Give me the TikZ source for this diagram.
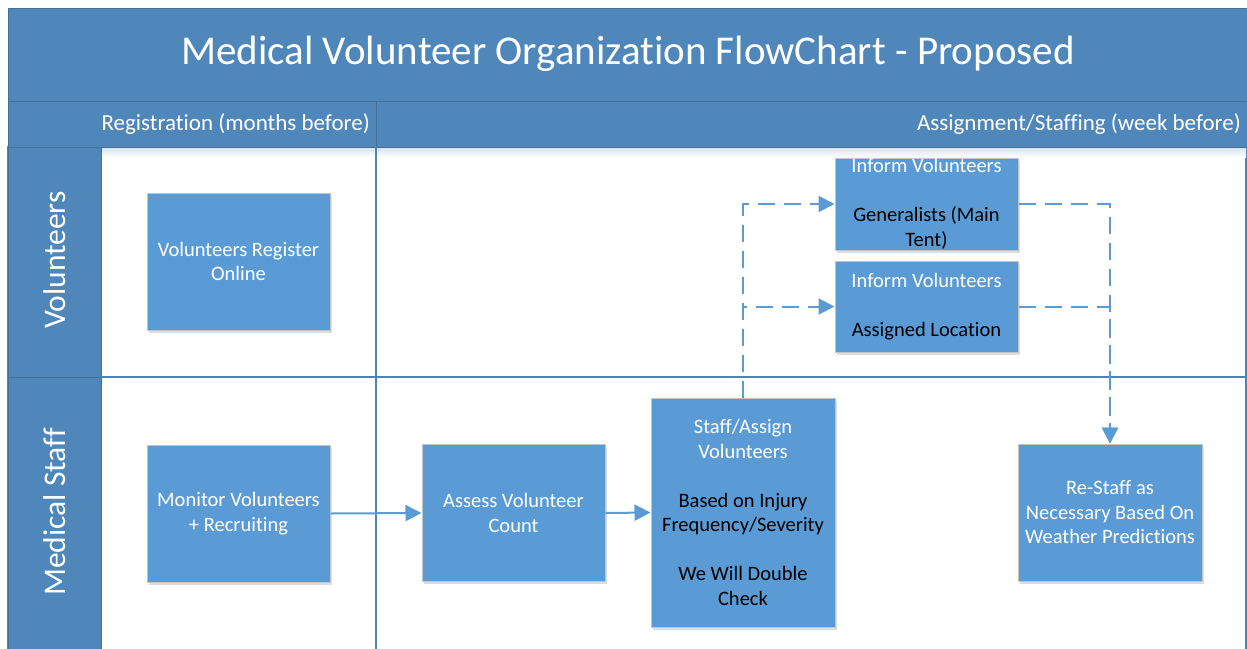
\documentclass[tikz,border=0pt]{standalone}
\usepackage{fontspec}
\setmainfont{Carlito}[Ligatures=NoCommon]
\usetikzlibrary{arrows.meta,shadows}
\definecolor{hdr}{HTML}{4F87BB}
\definecolor{hdrline}{HTML}{41719C}
\definecolor{boxfill}{HTML}{5B9BD5}
\definecolor{boxline}{HTML}{C4C4C4}
\definecolor{conn}{HTML}{5B9BD5}
\definecolor{gridc}{HTML}{4F81BD}
\begin{document}
\begin{tikzpicture}[x=1pt,y=-1pt,
  band/.style={fill=hdr,draw=hdrline,line width=1pt},
  gridline/.style={draw=gridc,line width=1.2pt},
  box/.style={rectangle,fill=boxfill,draw=boxline,line width=1pt,minimum width=183pt,inner sep=0pt,
    drop shadow={shadow xshift=1.5pt,shadow yshift=-2.5pt,opacity=0.22,fill=black!60}},
  boxtext/.style={align=center,font=\fontsize{20.5}{24.5}\selectfont,text=white,inner sep=0pt},
  hdrtext/.style={text=white,inner sep=0pt},
  flow/.style={draw=conn,line width=2pt,-{Triangle[length=16pt,width=16pt]}},
  dflow/.style={flow,dash pattern=on 17pt off 9pt},
]
\useasboundingbox (0,0) rectangle (1247,648);
\clip (0,0) rectangle (1247,648);
\fill[white] (0,0) rectangle (1247,648);
% pool frame
\draw[gridline] (8,147) rectangle (1246,700);
\shade[top color=hdr!25,bottom color=white] (101,147) rectangle (1246,157);
% title band
\draw[band] (8,8) rectangle (1250,101);
\node[hdrtext,font=\fontsize{41}{46}\selectfont] (title) at (628,54) {Medical Volunteer Organization FlowChart - Proposed};
% phase row
\draw[band] (8,101) rectangle (376,147);
\draw[band] (376,101) rectangle (1250,147);
\node[hdrtext,anchor=east,font=\fontsize{23}{27}\selectfont] (ph1) at (370,124) {Registration (months before)};
\node[hdrtext,anchor=east,font=\fontsize{23}{27}\selectfont] (ph2) at (1241,124) {Assignment/Staffing (week before)};
% lane headers
\draw[band] (8,147) rectangle (101,377);
\draw[band] (8,377) rectangle (101,700);
\node[hdrtext,rotate=90,font=\fontsize{31.5}{36}\selectfont] (lane1) at (55,260) {Volunteers};
\node[hdrtext,rotate=90,font=\fontsize{31.5}{36}\selectfont] (lane2) at (55,512) {Medical Staff};
% dividers
\draw[gridline] (101,377) -- (1246,377);
\draw[gridline] (376,147) -- (376,700);
% boxes
\node[box,minimum height=137pt,label={[boxtext]center:Volunteers Register\\Online}] (reg) at (238.5,261.5) {};
\node[box,minimum height=137pt,label={[boxtext]center:Monitor Volunteers\\+ Recruiting}] (mon) at (238.5,513.5) {};
\node[box,minimum height=137pt,label={[boxtext]center:Assess Volunteer\\Count}] (assess) at (513.5,513) {};
\node[box,minimum width=184pt,minimum height=229pt,label={[boxtext]center:Staff/Assign\\Volunteers\\[24.5pt]\textcolor{black}{Based on Injury}\\\textcolor{black}{Frequency/Severity}\\[24.5pt]\textcolor{black}{We Will Double}\\\textcolor{black}{Check}}] (staff) at (743,512.5) {};
\node[box,minimum width=184pt,minimum height=137pt,label={[boxtext]center:Re-Staff as\\Necessary Based On\\Weather Predictions}] (restaff) at (1110,512.5) {};
\node[box,minimum height=92pt,label={[boxtext]center:Inform Volunteers\\[24.5pt]\textcolor{black}{Generalists (Main}\\\textcolor{black}{Tent)}}] (gen) at (926.5,204) {};
\node[box,minimum height=91pt,label={[boxtext]center:Inform Volunteers\\[24.5pt]\textcolor{black}{Assigned Location}}] (loc) at (926.5,306.5) {};
% connectors
\draw[flow] (mon.east) -- (assess.west);
\draw[flow] (assess.east) -- (staff.west);
\draw[dflow] (staff.north) -- (staff.north |- gen.west) -- (gen.west);
\draw[dflow] (staff.north) -- (staff.north |- loc.west) -- (loc.west);
\draw[dflow] (gen.east) -- (restaff.north |- gen.east) -- (restaff.north);
\draw[dflow] (loc.east) -- (restaff.north |- loc.east) -- (restaff.north);
\end{tikzpicture}
\end{document}
